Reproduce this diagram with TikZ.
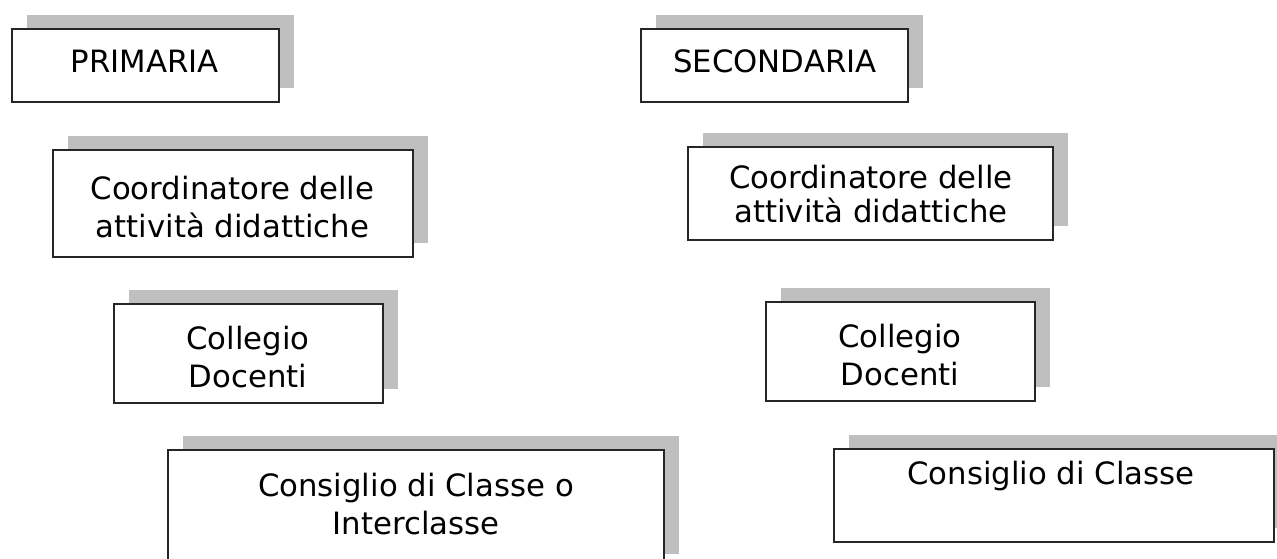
\documentclass[tikz,border=0pt]{standalone}
\usepackage{fontspec}
\setmainfont{DejaVu Sans}
\usetikzlibrary{shadows}

\tikzset{
  box/.style={draw=black!85, line width=1.1pt, fill=white, inner sep=0pt,
              drop shadow={shadow xshift=.3cm, shadow yshift=.28cm,
                           fill=black!25, opacity=1}},
  txt/.style={anchor=base, align=center, inner sep=0pt,
              font=\fontsize{17.5}{21.8}\selectfont},
}

\begin{document}
\begin{tikzpicture}
  \useasboundingbox (0,0) rectangle (25.54,11.18);
  \clip (0,0) rectangle (25.54,11.18);

  % primaria
  \node [box, minimum width=5.34cm, minimum height=1.46cm] (prim) at (2.91,9.87) {};
  \node [txt] (primT) at (2.90,9.73) {PRIMARIA};
  \node [box, minimum width=7.2cm, minimum height=2.14cm] (primCoord) at (4.66,7.11) {};
  \node [txt, font=\fontsize{17.5}{22}\selectfont] (primCoordT) at (4.65,6.42) {Coordinatore delle\\attività didattiche};
  \node [box, minimum width=5.38cm, minimum height=1.98cm] (primColl) at (4.97,4.11) {};
  \node [txt] (primCollT) at (4.96,3.42) {Collegio\\Docenti};
  \node [box, minimum width=9.92cm, minimum height=2.36cm] (primCons) at (8.32,1.0) {};
  \node [txt] (primConsT) at (8.32,0.48) {Consiglio di Classe o\\Interclasse};

  % secondaria
  \node [box, minimum width=5.34cm, minimum height=1.46cm] (sec) at (15.49,9.87) {};
  \node [txt] (secT) at (15.50,9.72) {SECONDARIA};
  \node [box, minimum width=7.3cm, minimum height=1.86cm] (secCoord) at (17.41,7.31) {};
  \node [txt, font=\fontsize{17.5}{19.8}\selectfont] (secCoordT) at (17.42,6.72) {Coordinatore delle\\attività didattiche};
  \node [box, minimum width=5.38cm, minimum height=1.98cm] (secColl) at (18.01,4.15) {};
  \node [txt] (secCollT) at (18.0,3.47) {Collegio\\Docenti};
  \node [box, minimum width=8.8cm, minimum height=1.86cm] (secCons) at (21.08,1.27) {};
  \node [txt] (secConsT) at (21.02,1.48) {Consiglio di Classe};
\end{tikzpicture}
\end{document}
